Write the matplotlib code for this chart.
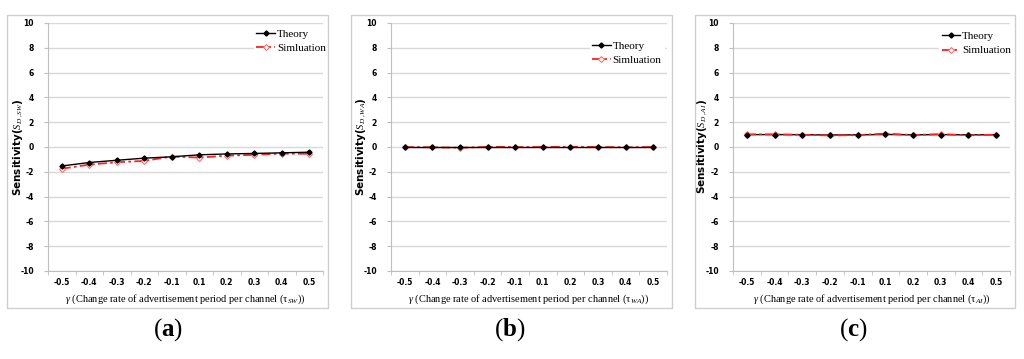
import matplotlib
matplotlib.use("Agg")
import matplotlib.pyplot as plt
from matplotlib.patches import Rectangle

plt.rcParams['mathtext.fontset'] = 'custom'
plt.rcParams['mathtext.rm'] = 'Liberation Serif'
plt.rcParams['mathtext.it'] = 'Liberation Serif:italic'
plt.rcParams['mathtext.bf'] = 'Liberation Serif:bold'

categories = ["-0.5", "-0.4", "-0.3", "-0.2", "-0.1", "0.1", "0.2", "0.3", "0.4", "0.5"]

theory_a = [-1.53, -1.25, -1.07, -0.90, -0.79, -0.63, -0.56, -0.52, -0.47, -0.42]
simul_a = [-1.75, -1.42, -1.23, -1.12, -0.77, -0.85, -0.70, -0.63, -0.53, -0.55]

theory_b = [0.0, 0.0, 0.0, 0.0, 0.0, 0.0, 0.0, 0.0, 0.0, 0.0]
simul_b = [0.0, -0.02, -0.06, 0.01, 0.0, 0.0, 0.02, 0.0, -0.02, 0.0]

theory_c = [1.0, 1.0, 0.99, 0.97, 0.98, 1.01, 0.98, 1.0, 0.98, 0.99]
simul_c = [1.02, 1.02, 0.99, 0.93, 0.96, 1.08, 0.97, 1.04, 0.95, 0.99]

yticks = [-10, -8, -6, -4, -2, 0, 2, 4, 6, 8, 10]

W, H = 1024, 359
fig = plt.figure(figsize=(W / 100, H / 100), dpi=100)

panels = [
    dict(ax=(48, 23, 323, 271), frame=(7, 15, 328, 308), th=theory_a, si=simul_a,
         sub="SW", ylab=r"$S_{D\ ,SW}$", leg=(0.75, 0.985), letter="a", lx=168, red_top=False),
    dict(ax=(391, 23, 667, 271), frame=(351, 15, 672, 308), th=theory_b, si=simul_b,
         sub="WA", ylab=r"$S_{D\ ,WA}$", leg=(0.72, 0.935), letter="b", lx=510, red_top=False),
    dict(ax=(733, 23, 1010, 271), frame=(695, 15, 1015, 308), th=theory_c, si=simul_c,
         sub="AI", ylab=r"$S_{D\ ,AI}$", leg=(0.745, 0.975), letter="c", lx=853, red_top=True),
]

grid_c = "#d9d9d9"
x = list(range(len(categories)))

for p in panels:
    fx0, fy0, fx1, fy1 = p["frame"]
    fig.patches.append(Rectangle((fx0 / W, 1 - fy1 / H), (fx1 - fx0) / W, (fy1 - fy0) / H,
                                 transform=fig.transFigure, fill=False,
                                 edgecolor="#cfcfcf", linewidth=1.0))
    x0, y0, x1, y1 = p["ax"]
    ax = fig.add_axes([x0 / W, 1 - y1 / H, (x1 - x0) / W, (y1 - y0) / H])
    ax.set_xlim(-0.5, len(categories) - 0.5)
    ax.set_ylim(-10, 10)
    ax.set_yticks(yticks)
    ax.set_yticklabels([str(v) for v in yticks], fontsize=5.5, fontweight="bold")
    ax.set_xticks(x)
    ax.set_xticklabels(categories, fontsize=5.5, fontweight="bold")
    ax.set_xticks([i + 0.5 for i in x[:-1]] + [-0.5, len(categories) - 0.5], minor=True)
    ax.tick_params(axis="x", which="major", length=0, pad=5)
    ax.tick_params(axis="x", which="minor", length=3, color="#bfbfbf", direction="out")
    ax.tick_params(axis="y", length=3, color="#bfbfbf", pad=7)
    for s in ["top", "right"]:
        ax.spines[s].set_visible(False)
    ax.spines["left"].set_color("#bfbfbf")
    ax.spines["bottom"].set_color("#bfbfbf")
    ax.yaxis.grid(True, color=grid_c, linewidth=1.0)
    ax.set_axisbelow(True)

    red_z = 3 if p["red_top"] else 2
    ax.plot(x, p["th"], color="black", linewidth=1.0, marker="D", markersize=2.6,
            markerfacecolor="black", markeredgecolor="black", label="Theory", zorder=2.5)
    ax.plot(x, p["si"], color="#ff2020", linewidth=1.3, linestyle=(0, (5, 1.8, 1.5, 1.8)),
            marker="D", markersize=3.0, markerfacecolor="white", markeredgecolor="#ff6060",
            markeredgewidth=0.7, label="Simluation", zorder=red_z)
    if p["red_top"]:
        ax.plot(x, p["th"], linestyle="none", marker="D", markersize=2.6,
                markerfacecolor="black", markeredgecolor="black", zorder=4)

    leg = ax.legend(loc="upper left", bbox_to_anchor=p["leg"], frameon=True,
                    prop={"family": "Liberation Serif", "size": 8},
                    handlelength=1.7, handletextpad=0.15, labelspacing=0.4,
                    borderpad=0.2, borderaxespad=0)
    leg.get_frame().set_facecolor("white")
    leg.get_frame().set_edgecolor("white")
    leg.get_frame().set_alpha(1.0)

    ax.set_ylabel("Sensitivity(" + p["ylab"] + ")", fontsize=7.5, fontweight="bold",
                  family="DejaVu Sans")
    ax.yaxis.set_label_coords(-0.085, 0.5)
    ax.set_xlabel(r"$\gamma$ (Change rate of advertisement period per channel (τ$_{" + p["sub"] + r"}$))",
                  fontsize=7.5, family="Liberation Serif", labelpad=4)

    fig.text(p["lx"] / W, 1 - 330 / H, r"(" + r"$\mathbf{" + p["letter"] + r"}$" + r")",
             ha="center", va="center", fontsize=18, family="Liberation Serif")

fig.savefig("out.png", dpi=100)
